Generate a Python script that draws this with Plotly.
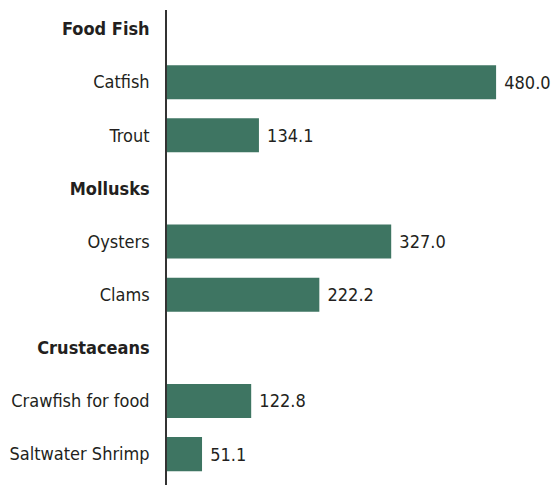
import plotly.graph_objects as go

categories = ["Food Fish", "Catfish", "Trout", "Mollusks", "Oysters", "Clams",
              "Crustaceans", "Crawfish for food", "Saltwater Shrimp"]
is_header = [True, False, False, True, False, False, True, False, False]
values = [None, 480.0, 134.1, None, 327.0, 222.2, None, 122.8, 51.1]

ypos = list(range(len(categories)))
ticktext = [f"<b>{c}</b>" if h else c for c, h in zip(categories, is_header)]

bar_y = [y for y, v in zip(ypos, values) if v is not None]
bar_x = [v for v in values if v is not None]

FONT = "Liberation Sans Narrow, DejaVu Sans Condensed, Arial Narrow, sans-serif"

fig = go.Figure(go.Bar(
    x=bar_x, y=bar_y, orientation="h",
    marker=dict(color="#3e7562", line=dict(width=0)),
    width=0.64,
    text=[f"{v:.1f}" for v in bar_x],
    texttemplate=" %{text}",
    textposition="outside",
    textfont=dict(family=FONT, size=18, color="#231f20"),
    cliponaxis=False,
))

fig.update_layout(
    width=553, height=485,
    margin=dict(l=167, r=0, t=10, b=0, autoexpand=False),
    plot_bgcolor="white", paper_bgcolor="white",
    showlegend=False,
    font=dict(family=FONT, size=18, color="#231f20"),
    xaxis=dict(range=[0, 563], visible=False, showgrid=False, zeroline=False),
    yaxis=dict(
        range=[8.581, -0.3575],
        tickvals=ypos, ticktext=ticktext,
        showline=True, linecolor="#333333", linewidth=1.5,
        showgrid=False, zeroline=False, ticks="",
        ticklabelstandoff=12, automargin=False,
        tickfont=dict(family=FONT, size=18, color="#231f20"),
    ),
)

fig.write_html(
    "out.html",
    config={"displayModeBar": False},
    post_script="document.body.style.margin='0';document.body.style.overflow='hidden';",
)
